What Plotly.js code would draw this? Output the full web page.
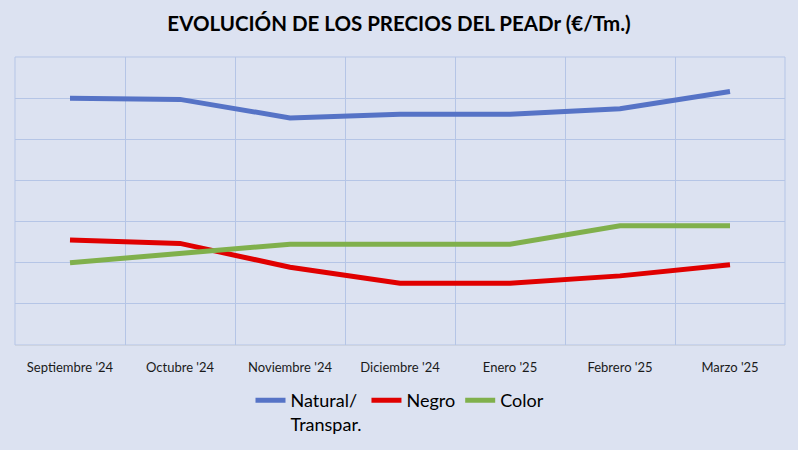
<!DOCTYPE html>
<html>
<head>
<meta charset="utf-8">
<script src="https://cdn.plot.ly/plotly-3.0.1.min.js"></script>
<style>
  html, body { margin: 0; padding: 0; background: #DCE2F1; }
  #plot { width: 798px; height: 450px; }
</style>
</head>
<body>
<div id="plot"></div>
<script>
var meses = ["Septiembre '24", "Octubre '24", "Noviembre '24", "Diciembre '24", "Enero '25", "Febrero '25", "Marzo '25"];

// precios en €/Tm (eje sin etiquetas)
var natural = [600, 597, 552, 561, 561, 574, 616];
var negro = [255, 247, 189, 150, 150, 168, 195];
var color = [200, 223, 245, 245, 245, 290, 290];

var traceNatural = {
  x: meses,
  y: natural,
  type: "scatter",
  mode: "lines",
  name: "Natural/<br>Transpar.",
  line: { color: "#5673C6", width: 5 }
};

var traceNegro = {
  x: meses,
  y: negro,
  type: "scatter",
  mode: "lines",
  name: "Negro",
  line: { color: "#E00000", width: 5 }
};

var traceColor = {
  x: meses,
  y: color,
  type: "scatter",
  mode: "lines",
  name: "Color",
  line: { color: "#80B04C", width: 5 }
};

var data = [traceNatural, traceNegro, traceColor];

var layout = {
  width: 798,
  height: 450,
  paper_bgcolor: "#DCE2F1",
  plot_bgcolor: "#DCE2F1",
  font: { family: "Lato, 'Liberation Sans', sans-serif", color: "#000" },
  margin: { l: 15, r: 13, t: 57, b: 105 },
  title: {
    text: "<b>EVOLUCIÓN DE LOS PRECIOS DEL PEADr (€/Tm.)</b>",
    font: { size: 20.5, color: "#000" },
    x: 0.5,
    xanchor: "center",
    y: 1 - 24 / 450,
    yanchor: "middle"
  },
  xaxis: {
    type: "category",
    tickson: "boundaries",
    showgrid: true,
    gridcolor: "#B5C5E6",
    gridwidth: 1,
    showline: true,
    linecolor: "#CDD3E0",
    ticks: "",
    ticklabelstandoff: 10,
    tickfont: { size: 13, color: "#1a1a1a" },
    range: [-0.5, 6.5],
    fixedrange: true
  },
  yaxis: {
    range: [0, 700],
    dtick: 100,
    showgrid: true,
    gridcolor: "#B5C5E6",
    gridwidth: 1,
    showticklabels: false,
    zeroline: false,
    ticks: "",
    fixedrange: true
  },
  showlegend: true,
  legend: {
    orientation: "h",
    x: 0.5,
    xanchor: "center",
    yref: "container",
    y: 1 - 382 / 450,
    yanchor: "top",
    font: { size: 18, color: "#000" },
    bgcolor: "rgba(0,0,0,0)",
    itemwidth: 30,
    valign: "top"
  },
  shapes: [{
    type: "rect",
    xref: "paper",
    yref: "paper",
    x0: 0, x1: 1, y0: 0, y1: 1,
    line: { color: "#B5C5E6", width: 1 },
    layer: "below"
  }]
};

Plotly.newPlot("plot", data, layout, { displayModeBar: false, staticPlot: true });
</script>
</body>
</html>
